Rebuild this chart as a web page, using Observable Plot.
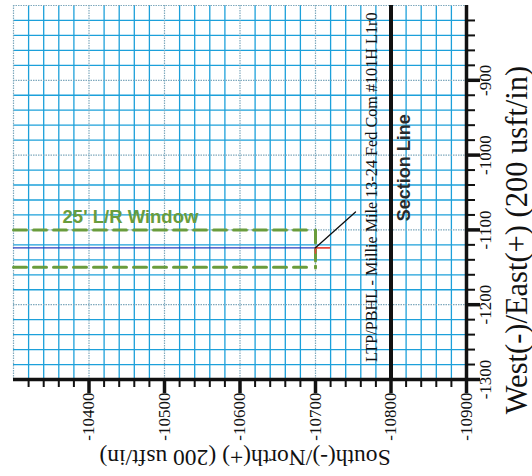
<!DOCTYPE html>
<html><head><meta charset="utf-8">
<script src="https://cdn.jsdelivr.net/npm/d3@7"></script>
<script src="https://cdn.jsdelivr.net/npm/@observablehq/plot@0.6"></script>
<style>body{margin:0;background:#fff;overflow:hidden}</style>
</head><body><div id="chart"></div>
<script>
// Axis tick values (usft)
const xMajorTicks = [-10400, -10500, -10600, -10700, -10800, -10900];
const yMajorTicks = [-900, -1000, -1100, -1200, -1300];
const xMajorGrid = [-10300, -10400, -10500, -10600, -10700, -10800, -10900];
const yMajorGrid = [-800, -900, -1000, -1100, -1200, -1300];
const xDomain = [-10300, -10900];
const yDomain = [-1300, -800];
const gridStep = 20;
const xAll = d3.range(-10300, -10901, -gridStep);
const yAll = d3.range(-800, -1301, -gridStep);
const xMinorTicks = xAll.filter(v => v % 100 !== 0);
const yMinorTicks = yAll.filter(v => v % 100 !== 0);

// Section line
const sectionLineX = [-10800];
// Planned lateral (blue)
const planX = [-10300, -10700];
const planY = [-1124, -1124];
// 25' L/R window (green dashed)
const windowTopX = [-10300, -10690];
const windowTopY = [-1100, -1100];
const windowBotX = [-10300, -10690];
const windowBotY = [-1150, -1150];
const windowEndX = [-10700, -10700];
const windowEndY = [-1100, -1151];
// Target marker (red)
const targetHX = [-10700, -10719];
const targetHY = [-1124, -1124];
const targetVX = [-10700, -10700];
const targetVY = [-1124, -1131];
// Leader line (black)
const leaderX = [-10700, -10753];
const leaderY = [-1124, -1076];

const labels = {
  window: "25' L/R Window",
  section: "Section Line",
  well: "LTP/PBHL - Millie Mile 13-24 Fed Com #101H L1r0",
  xTitle: "South(-)/North(+) (200 usft/in)",
  yTitle: "West(-)/East(+) (200 usft/in)"
};

const pts = (xs, ys) => xs.map((x, i) => ({x, y: ys[i]}));
const serif = "Liberation Serif, Times New Roman, serif";
const sans = "Liberation Sans, Arial, sans-serif";
const cyan = "#1ca0da";
const green = "#6a9c3c";

const chart = Plot.plot({
  width: 532,
  height: 476,
  marginLeft: 13,
  marginRight: 66,
  marginTop: 5,
  marginBottom: 97,
  x: {domain: xDomain, axis: null},
  y: {domain: yDomain, axis: null},
  style: {background: "#fff", overflow: "hidden"},
  marks: [
    Plot.gridX(xMinorTicks, {stroke: cyan, strokeOpacity: 1, strokeWidth: 1.3}),
    Plot.gridY(yMinorTicks, {stroke: cyan, strokeOpacity: 1, strokeWidth: 1.3}),
    Plot.gridX(xMajorGrid, {stroke: "#7fa9bd", strokeOpacity: 1, strokeWidth: 1.2, strokeDasharray: "1.5,1"}),
    Plot.gridY(yMajorGrid, {stroke: "#7fa9bd", strokeOpacity: 1, strokeWidth: 1.2, strokeDasharray: "1.5,1"}),
    // window
    Plot.line(pts(windowTopX, windowTopY), {x: "x", y: "y", stroke: green, strokeWidth: 3, strokeDasharray: "13,7"}),
    Plot.line(pts(windowBotX, windowBotY), {x: "x", y: "y", stroke: green, strokeWidth: 3, strokeDasharray: "13,7"}),
    Plot.line(pts(windowEndX, windowEndY), {x: "x", y: "y", stroke: green, strokeWidth: 3, strokeDasharray: "13,5"}),
    // plan
    Plot.line(pts(planX, planY), {x: "x", y: "y", stroke: "#2a3fbf", strokeWidth: 1.4}),
    Plot.line(pts(targetHX, targetHY), {x: "x", y: "y", stroke: "#e8463c", strokeWidth: 1.6}),
    Plot.line(pts(targetVX, targetVY), {x: "x", y: "y", stroke: "#e8463c", strokeWidth: 1.6}),
    Plot.line(pts(leaderX, leaderY), {x: "x", y: "y", stroke: "#111", strokeWidth: 1.3}),
    // section line
    Plot.ruleX(sectionLineX, {stroke: "#111", strokeWidth: 4}),
    // axes lines
    Plot.ruleY([yDomain[0]], {stroke: "#111", strokeWidth: 3.5}),
    Plot.ruleX([xDomain[1]], {stroke: "#111", strokeWidth: 3.5}),
    // ticks
    Plot.axisX(xMinorTicks, {anchor: "bottom", tickSize: 8, strokeWidth: 2, stroke: "#111", tickFormat: () => "", label: null}),
    Plot.axisX(xMajorTicks, {anchor: "bottom", tickSize: 14, strokeWidth: 3.5, stroke: "#111", tickFormat: () => "", label: null}),
    Plot.axisY(yMinorTicks, {anchor: "right", tickSize: 8, strokeWidth: 2, stroke: "#111", tickFormat: () => "", label: null}),
    Plot.axisY(yMajorTicks, {anchor: "right", tickSize: 13, strokeWidth: 3.5, stroke: "#111", tickFormat: () => "", label: null}),
    // tick labels
    Plot.text(xMajorTicks, {x: d => d, frameAnchor: "bottom", dy: 13, rotate: -90, textAnchor: "end", lineAnchor: "middle", text: d => String(d), fontSize: 17, fontFamily: serif, fill: "#111"}),
    Plot.text(yMajorTicks, {y: d => d, frameAnchor: "right", dx: 12, rotate: -90, textAnchor: "middle", lineAnchor: "top", text: d => String(d), fontSize: 17, fontFamily: serif, fill: "#111"}),
    // titles
    Plot.text([labels.xTitle], {frameAnchor: "bottom", dx: 5, dy: 78, rotate: 180, textAnchor: "middle", lineAnchor: "middle", fontSize: 23.5, fontFamily: serif, fill: "#111"}),
    Plot.text([labels.yTitle], {frameAnchor: "right", dx: 60, dy: 47.5, rotate: -90, textAnchor: "middle", lineAnchor: "bottom", fontSize: 30.5, fontFamily: serif, fill: "#111"}),
    // annotations
    Plot.text([labels.window], {x: () => -10365, y: () => -1091, textAnchor: "start", lineAnchor: "bottom", fontSize: 18.5, fontWeight: "bold", fontFamily: sans, fill: green}),
    Plot.text([labels.section], {x: () => -10817, y: () => -1017, rotate: -90, textAnchor: "middle", lineAnchor: "middle", fontSize: 18, fontWeight: "bold", fontFamily: sans, fill: "#2a2a2a"}),
    Plot.text([labels.well], {x: () => -10775, y: () => -1043, rotate: -90, textAnchor: "middle", lineAnchor: "middle", fontSize: 16.2, fontFamily: serif, fill: "#111"})
  ]
});
document.getElementById("chart").appendChild(chart);
</script>
</body></html>
